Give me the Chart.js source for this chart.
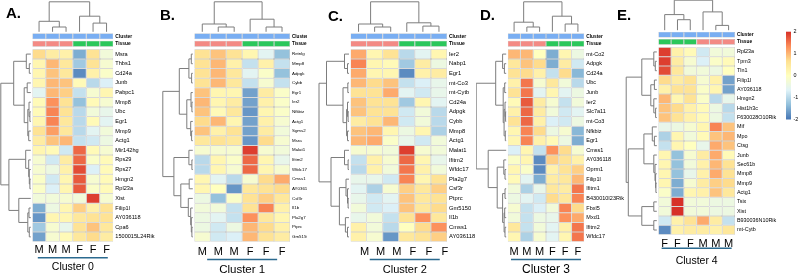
<!DOCTYPE html>
<html>
<head>
<meta charset="utf-8">
<title>Cluster heatmaps</title>
<script src="https://cdn.jsdelivr.net/npm/chart.js@4.4.1/dist/chart.umd.min.js"></script>
<style>
  html, body { margin: 0; padding: 0; background: #fff; }
  #figure { position: relative; width: 800px; height: 275px; overflow: hidden; }
  #figure canvas { position: absolute; top: 0; }
  .tag { position: absolute; font: bold 15px "Liberation Sans", Arial, sans-serif; line-height: 15px; color: #000; }
</style>
</head>
<body>
<div id="figure">
  <canvas id="cA" width="160" height="275" style="left:0px"></canvas>
  <canvas id="cB" width="147" height="275" style="left:160px"></canvas>
  <canvas id="cC" width="162" height="275" style="left:318px"></canvas>
  <canvas id="cD" width="149" height="275" style="left:476px"></canvas>
  <canvas id="cE" width="175" height="275" style="left:625px"></canvas>
  <div class="tag" style="left:6px;top:5px">A.</div>
  <div class="tag" style="left:160px;top:7px">B.</div>
  <div class="tag" style="left:328px;top:8px">C.</div>
  <div class="tag" style="left:480px;top:7px">D.</div>
  <div class="tag" style="left:617px;top:7px">E.</div>
</div>
<script>
// ---- data (z-scores) ----
const samplesMF = ['M', 'M', 'M', 'F', 'F', 'F'];
const samplesFM = ['F', 'F', 'F', 'M', 'M', 'M'];
const clusterNames = ['Cluster 0', 'Cluster 1', 'Cluster 2', 'Cluster 3', 'Cluster 4'];
const legendTicks = [2, 1, 0, -1, -2];

const genes0 = ['Msra', 'Thbs1', 'Cd24a', 'Junb', 'Pabpc1', 'Mmp8', 'Ubc', 'Egr1', 'Mmp9', 'Actg1',
  'Mir142hg', 'Rps29', 'Rps27', 'Hmgn2', 'Rpl23a', 'Xist', 'Filip1l', 'AY036118', 'Cpa6', '1500015L24Rik'];
const z0 = [
  [0.7, 0.4, 0.3, -1.5, 0.6, -0.3], [0.2, 1.0, 0.5, -1.2, 0.6, -0.2], [0.2, 0.9, 0.5, -1.8, 0.3, -0.1],
  [0.2, 1.0, 0.9, 0.1, -1.0, -0.7], [-0.6, 1.0, 0.8, -0.9, -0.2, 0.2], [0.1, 1.3, 0.6, -1.3, 0.1, -0.2],
  [0.1, 1.4, 0.6, -1.0, -0.3, -0.5], [0.2, 1.4, 0.5, -1.0, 0.1, -0.6], [0.6, 1.2, 0.5, -1.0, -0.6, -0.3],
  [0.4, 0.9, 1.0, -0.9, -0.8, -0.4], [0.2, 0.1, -0.8, 1.6, 0.1, -0.2], [-0.2, -0.8, 0.4, 1.6, -0.1, 0.1],
  [-0.2, -0.4, 0.3, 1.8, -0.7, 0.1], [-0.1, -0.8, 0.2, 1.7, -0.2, 0.1], [-0.1, -0.7, 0.2, 1.7, -0.1, 0.1],
  [-0.3, -0.3, -0.2, -0.3, 1.9, -0.2], [-1.5, -0.4, 0.2, 0.8, 0.3, 0.6], [-1.7, 0.2, 0.2, 0.5, 0.6, 0.6],
  [-1.2, -0.2, -0.5, 0.6, 0.9, 0.5], [-1.6, -0.2, 0.1, 0.5, 0.7, 0.4]
];
const colTree0 = [[0, [1, 2, 0.16], 0.35], [3, [4, 5, 0.29], 0.52], 1];
const rowTree0 = [
  [[0, [1, 2, 0.05], 0.15], [[3, 4, 0.12], [[5, [6, 7, 0.03], 0.06], [8, 9, 0.07], 0.1], 0.22], 0.57],
  [[10, [11, [12, [13, 14, 0.03], 0.05], 0.07], 0.17], [15, [[16, 17, 0.06], [18, 19, 0.05], 0.1], 0.4], 0.73],
  1];

const genes1 = ['Retnlg', 'Mmp8', 'Adpgk', 'Cybb', 'Egr1', 'Ier2', 'Nfkbiz', 'Actg1', 'Sgms2', 'Msra',
  'Malat1', 'Ifitm2', 'Wfdc17', 'Cmss1', 'AY036118', 'Csf3r', 'Il1b', 'Pla2g7', 'Ptprc', 'Gm5150'];
const z1 = [
  [0.6, 0.9, 0.6, 0.2, -0.6, -1.3], [0.6, 1.0, 0.3, -0.9, 0.3, -0.9], [0.6, 1.0, 0.5, -0.6, -0.1, -1.3],
  [0.6, 1.0, 0.5, -0.9, -0.2, -0.9], [0.9, 0.2, 0.2, -1.6, 0.4, -0.1], [1.0, 0.2, 0.4, -1.6, 0.3, -0.1],
  [0.9, 0.1, 0.5, -1.7, 0.2, -0.1], [0.7, 1.0, 0.2, -1.6, 0.3, -0.2], [0.9, 0.3, 0.6, -1.6, 0.4, -0.3],
  [0.5, 0.6, 0.5, -1.7, 0.7, -0.2], [-0.2, -0.2, -0.2, 1.9, -0.2, -0.3], [-1.0, 0.2, -0.1, 1.6, 0.2, -0.5],
  [-1.0, 0.2, -0.2, 1.6, 0.2, -0.2], [0.2, -0.6, -1.0, -0.2, 0.7, 1.1], [0.2, 0.0, -1.7, 0.5, 0.6, 0.7],
  [-0.4, -1.3, -0.1, 0.6, 0.8, 0.5], [-0.3, -0.3, -0.9, 0.6, 1.4, 0.3], [-0.4, -0.6, -0.9, 1.3, 0.5, 0.2],
  [-0.4, -0.8, -0.4, 1.0, 0.7, 0.3], [-0.2, -0.8, -0.7, 1.0, 0.6, 0.4]
];
const colTree1 = [[0, [1, 2, 0.16], 0.26], [3, [4, 5, 0.16], 0.42], 1];
const rowTree1 = [
  [[[0, 1, 0.05], [2, 3, 0.04], 0.13], [[4, [5, 6, 0.03], 0.06], [7, [8, 9, 0.04], 0.07], 0.2], 0.45],
  [[10, [11, 12, 0.03], 0.13], [[13, 14, 0.12], [15, [16, [17, [18, 19, 0.03], 0.05], 0.07], 0.15], 0.4], 0.63],
  1];

const genes2 = ['Ier2', 'Nabp1', 'Egr1', 'mt-Co3', 'mt-Cytb', 'Cd24a', 'Adpgk', 'Cybb', 'Mmp8', 'Actg1',
  'Malat1', 'Ifitm2', 'Wfdc17', 'Pla2g7', 'Csf3r', 'Ptprc', 'Gm5150', 'Il1b', 'Cmss1', 'AY036118'];
const z2 = [
  [1.1, 0.2, 0.6, -1.0, -0.6, 0.2], [1.4, 0.2, 0.1, -1.2, 0.4, -0.4], [1.1, 0.2, 0.2, -1.8, 0.3, 0.4],
  [1.0, 0.7, 0.9, -0.9, -0.7, -0.5], [0.6, 0.6, 1.1, -0.6, -0.8, -0.5], [0.9, 0.6, 0.6, -1.2, 0.2, -0.6],
  [0.9, 0.6, 0.6, -0.8, -0.3, -1.0], [0.4, 0.6, 1.0, -0.8, -0.3, -1.0], [0.9, 1.0, 0.2, -0.4, 0.2, -1.1],
  [1.0, 1.1, -0.1, -0.5, -0.8, -0.3], [-0.2, -0.2, -0.3, 1.9, -0.2, -0.3], [-0.9, 0.3, -0.2, 1.6, 0.2, -0.5],
  [-1.0, 0.3, -0.3, 1.5, 0.3, -0.3], [-0.5, -0.5, -0.8, 1.4, 0.2, 0.6], [-0.6, -1.1, -0.2, 0.8, 0.5, 0.8],
  [-0.5, -0.8, -0.6, 0.9, 0.5, 0.6], [-0.3, -0.8, -0.7, 0.9, 0.5, 0.7], [-0.5, -0.3, -0.9, 0.6, 1.3, 0.5],
  [0.3, -0.3, -1.0, 0.0, 0.7, 1.3], [0.3, -0.2, -1.7, 0.5, 0.6, 0.8]
];
const colTree2 = [[0, [1, 2, 0.16], 0.26], [3, [4, 5, 0.19], 0.3], 1];
const rowTree2 = [
  [[0, [1, 2, 0.05], 0.15], [[3, 4, 0.04], [[5, [6, 7, 0.03], 0.05], [8, 9, 0.05], 0.08], 0.2], 0.75],
  [[10, [11, 12, 0.03], 0.15], [[13, [14, [15, 16, 0.03], 0.05], 0.1], [17, [18, 19, 0.05], 0.12], 0.32], 0.6],
  1];

const genes3 = ['mt-Co2', 'Adpgk', 'Cd24a', 'Ubc', 'Junb', 'Ier2', 'Slc7a11', 'mt-Co3', 'Nfkbiz', 'Egr1',
  'Cmss1', 'AY036118', 'Oprm1', 'Filip1l', 'Ifitm1', 'B430010I23Rik', 'Fbxl5', 'Mxd1', 'Ifitm2', 'Wfdc17'];
const z3 = [
  [1.0, 1.0, 0.0, -1.5, 0.2, -0.4], [0.5, 0.9, 0.7, -1.5, 0.4, -0.8], [0.6, 0.7, 0.3, -0.9, 0.7, -1.4],
  [0.3, 1.5, -0.2, 0.5, -0.3, -1.0], [0.6, 1.5, -0.6, 0.2, -0.6, -0.4], [0.1, 1.7, 0.4, -0.2, -0.9, -0.3],
  [0.3, 1.6, 0.4, -0.3, -0.8, -0.6], [0.6, 1.6, 0.3, -0.7, -0.8, -0.4], [0.2, 1.4, 0.7, -0.4, -0.2, -1.4],
  [0.2, 1.4, 0.3, 0.1, -0.4, -1.5], [-0.7, 0.2, -0.9, 1.3, 0.7, -0.2], [-0.1, 0.2, -1.8, 0.8, 0.6, 0.3],
  [0.2, -0.1, -1.8, 0.3, 0.6, 0.8], [0.1, -0.6, -1.5, 0.4, 0.5, 1.0], [-0.3, -1.1, -0.5, 0.5, 0.4, 1.5],
  [-0.4, -0.6, -0.8, 0.7, 0.5, 1.4], [-0.2, -0.9, -0.7, -0.3, 1.4, 0.7], [-0.3, -0.9, -0.4, -0.5, 1.3, 1.1],
  [0.5, -0.9, -0.3, -0.6, 0.3, 1.5], [0.2, -1.1, -0.2, -0.6, 0.2, 1.5]
];
const colTree3 = [[0, [1, 2, 0.16], 0.32], [3, [4, 5, 0.26], 0.52], 1];
const rowTree3 = [
  [[0, [1, 2, 0.06], 0.12], [[3, 4, 0.05], [[5, [6, 7, 0.02], 0.04], [8, 9, 0.03], 0.07], 0.1], 0.35],
  [10, [[11, [12, 13, 0.04], 0.08], [[14, 15, 0.04], [[16, 17, 0.05], [18, 19, 0.04], 0.07], 0.12], 0.3], 0.6],
  1];

const genes4 = ['Rpl23a', 'Tpm3', 'Tln1', 'Filip1l', 'AY036118', 'Hmgn2', 'Hist1h3c', 'F630028O10Rik', 'Mif', 'Mpo',
  'Ctsg', 'Junb', 'Sec61b', 'Mmp8', 'Mmp9', 'Actg1', 'Tsix', 'Xist', 'B930036N10Rik', 'mt-Cytb'];
const z4 = [
  [1.9, 0.3, 0.1, -0.8, -0.3, -0.3], [1.9, 0.4, -0.2, -0.7, -0.1, 0.1], [1.8, 0.5, -0.3, -0.3, -0.4, 0.0],
  [0.7, 0.4, 0.6, -0.2, 0.3, -1.6], [0.3, 0.6, 0.6, -0.1, 0.2, -1.6], [1.0, 0.2, 0.6, -0.1, -1.0, -0.5],
  [0.9, 0.7, 0.3, 0.1, -0.4, -1.0], [0.9, 0.6, 0.3, 0.1, -0.4, -0.9], [-0.5, -0.4, -0.2, 0.2, 1.4, 0.9],
  [-1.1, 0.2, -0.3, 0.1, 0.9, 1.0], [-0.9, 0.2, 0.0, -0.5, 1.1, 0.9], [0.2, -1.3, -0.2, 0.4, 1.1, 0.1],
  [0.2, -1.3, -0.3, 0.3, 1.0, 0.6], [0.2, -1.3, -0.5, 0.3, 1.1, 0.6], [0.2, -1.5, -0.2, 0.4, 0.8, 0.7],
  [-0.1, -1.5, 0.2, 0.3, 0.9, 0.5], [-0.3, 2.0, -0.3, -0.3, -0.4, -0.4], [-0.3, 2.0, -0.3, -0.3, -0.4, -0.4],
  [-0.8, 0.3, 0.6, 1.1, 0.4, -0.9], [-1.8, 0.3, 0.4, 0.4, 0.3, 0.5]
];
const colTree4 = [[0, [1, 2, 0.35], 0.52], [3, [4, 5, 0.16], 0.61], 1];
const rowTree4 = [
  [[0, [1, 2, 0.05], 0.1], [[3, 4, 0.08], [5, [6, 7, 0.04], 0.1], 0.2], 0.5],
  [[[8, [9, 10, 0.08], 0.15], [11, [12, [13, [14, 15, 0.03], 0.04], 0.06], 0.1], 0.43],
   [[16, 17, 0.1], [18, 19, 0.1], 0.5], 0.95],
  1.02];

// ---- styling ----
const FONT = '"Liberation Sans", Arial, sans-serif';
const heatColors = ['#4575B4', '#91BFDB', '#E0F3F8', '#FFFFBF', '#FEE090', '#FC8D59', '#D73027'];
const tissueColors = { M: '#F38A84', F: '#2BC75B' };
const clusterColor = '#79AEF2';
const cellBorder = '#A8A8A8';
const dendroColor = '#7d7d7d';
const underlineColor = '#2b6a8f';
const ANNO = 0.62, GAP1 = 0.15, GAP2 = 0.27;  // annotation rows, in heat-row units
const TREE = 30;                              // dendrogram depth in px

// one entry per panel: canvas placement and heatmap box (page px)
const panels = [
  { id: 'cA', left: 0,   width: 160, hmLeft: 32.3,  hmRight: 113.3, top: 33.3, bottom: 241.7, geneSize: 5.6, annoSize: 4.9, tickPad: 2, lineY: 257.7, titleY: 267.5, titleSize: 10.5, shift: 0 },
  { id: 'cB', left: 160, width: 147, hmLeft: 194.3, hmRight: 290,   top: 33.3, bottom: 241.7, geneSize: 4.4, annoSize: 4.6, tickPad: 4, lineY: 259.5, titleY: 269.5, titleSize: 11.5, shift: 0 },
  { id: 'cC', left: 318, width: 162, hmLeft: 350.5, hmRight: 447,   top: 33.3, bottom: 241.7, geneSize: 5.8, annoSize: 5.0, tickPad: 4, lineY: 259.5, titleY: 270,   titleSize: 11,   shift: 6 },
  { id: 'cD', left: 476, width: 149, hmLeft: 507.7, hmRight: 584.3, top: 33.3, bottom: 241.7, geneSize: 5.5, annoSize: 4.8, tickPad: 4, lineY: 259.5, titleY: 269.5, titleSize: 12,   shift: 0 },
  { id: 'cE', left: 625, width: 175, hmLeft: 658.3, hmRight: 735,   top: 31.7, bottom: 234.7, geneSize: 5.4, annoSize: 4.8, tickPad: 3, lineY: 248.3, titleY: 261,   titleSize: 10.5, shift: 0,
    legend: { x: 786, y0: 31.7, y1: 119.5, w: 5 } }
];

function hexRgb(h) {
  return [1, 3, 5].map(i => parseInt(h.substr(i, 2), 16));
}

function heatColor(v) {
  const n = heatColors.length - 1;
  const t = Math.max(0, Math.min(1, (v + 2) / 4)) * n;
  const i = Math.min(Math.floor(t), n - 1), f = t - i;
  const a = hexRgb(heatColors[i]), b = hexRgb(heatColors[i + 1]);
  const c = a.map((x, k) => Math.round(x + (b[k] - x) * f));
  return `rgb(${c[0]},${c[1]},${c[2]})`;
}

// draws a dendrogram, returns position and height of the node
function drawTree(ctx, node, leaf, pt) {
  if (typeof node === 'number') return { pos: leaf(node), h: 0 };
  const a = drawTree(ctx, node[0], leaf, pt);
  const b = drawTree(ctx, node[1], leaf, pt);
  const h = node[2];
  ctx.beginPath();
  [[a.pos, a.h], [a.pos, h], [b.pos, h], [b.pos, b.h]].forEach(([q, k], j) => {
    const [px, py] = pt(q, k);
    if (j) ctx.lineTo(px, py); else ctx.moveTo(px, py);
  });
  ctx.stroke();
  return { pos: (a.pos + b.pos) / 2, h };
}

function makePanel(L, samples, genes, z, colTree, rowTree, caption) {
  // stacked rows, top to bottom
  const rows = [
    { name: 'Cluster', h: ANNO, kind: 'anno', colors: samples.map(() => clusterColor) },
    { name: '', h: GAP1, kind: 'gap' },
    { name: 'Tissue', h: ANNO, kind: 'anno', colors: samples.map(s => tissueColors[s]) },
    { name: '', h: GAP2, kind: 'gap' }
  ];
  genes.forEach((g, i) => rows.push({ name: g, h: 1, kind: 'gene', colors: z[i].map(heatColor) }));
  let acc = 0;
  rows.forEach(r => { r.c = acc + r.h / 2; acc += r.h; });
  const total = acc;
  const labelled = rows.filter(r => r.kind !== 'gap');
  const geneCenters = rows.filter(r => r.kind === 'gene').map(r => r.c);

  const datasets = rows.map(r => ({
    label: r.name,
    data: samples.map(() => r.h),
    backgroundColor: r.kind === 'gap' ? 'rgba(0,0,0,0)' : r.colors,
    borderColor: cellBorder,
    borderWidth: r.kind === 'gap' ? 0 : 0.5,
    borderSkipped: false,
    inflateAmount: 0,
    barPercentage: 1,
    categoryPercentage: 1
  }));

  const plugin = {
    id: 'trees',
    afterDraw(chart) {
      const { ctx, chartArea: a, scales: { x, y } } = chart;
      ctx.save();
      ctx.strokeStyle = dendroColor;
      ctx.lineWidth = 1;
      const top = a.top - 1.5, left = a.left - 1.5;
      drawTree(ctx, colTree, i => x.getPixelForValue(i), (p, h) => [p, top - h * TREE]);
      drawTree(ctx, rowTree, i => y.getPixelForValue(geneCenters[i]), (p, h) => [left - h * TREE, p]);

      // cluster caption with its underline
      const mid = (a.left + a.right) / 2 + L.shift;
      ctx.strokeStyle = underlineColor;
      ctx.lineWidth = 1.5;
      ctx.beginPath();
      ctx.moveTo(mid - 35, L.lineY);
      ctx.lineTo(mid + 35, L.lineY);
      ctx.stroke();
      ctx.fillStyle = '#000';
      ctx.font = `${L.titleSize}px ${FONT}`;
      ctx.textAlign = 'center';
      ctx.textBaseline = 'middle';
      ctx.fillText(caption, mid, L.titleY);

      if (L.legend) {
        const g = L.legend, gx = g.x - L.left;
        const grad = ctx.createLinearGradient(0, g.y0, 0, g.y1);
        heatColors.forEach((c, i) => grad.addColorStop(1 - i / (heatColors.length - 1), c));
        ctx.fillStyle = grad;
        ctx.fillRect(gx, g.y0, g.w, g.y1 - g.y0);
        ctx.fillStyle = '#000';
        ctx.font = `${L.geneSize}px ${FONT}`;
        ctx.textAlign = 'left';
        const lo = legendTicks[legendTicks.length - 1], hi = legendTicks[0];
        legendTicks.forEach(v => {
          const yy = g.y0 + (hi - v) / (hi - lo) * (g.y1 - g.y0);
          ctx.fillText(String(v), gx + g.w + 2.5, yy);
        });
      }
      ctx.restore();
    }
  };

  return new Chart(document.getElementById(L.id), {
    type: 'bar',
    data: { labels: samples, datasets },
    plugins: [plugin],
    options: {
      responsive: false,
      animation: false,
      events: [],
      layout: { padding: { left: L.hmLeft - L.left, top: L.top, right: 0, bottom: 0 } },
      plugins: { legend: { display: false }, tooltip: { enabled: false } },
      scales: {
        x: {
          stacked: true,
          grid: { display: false, drawTicks: false },
          border: { display: false },
          ticks: { autoSkip: false, maxRotation: 0, padding: L.tickPad, color: '#000',
                   labelOffset: L.shift, font: { family: FONT, size: 11 } },
          afterFit: s => { s.height = 275 - L.bottom; }
        },
        y: {
          type: 'linear',
          position: 'right',
          stacked: true,
          reverse: true,
          min: 0,
          max: total,
          grid: { display: false, drawTicks: false },
          border: { display: false },
          afterBuildTicks: s => { s.ticks = labelled.map(r => ({ value: r.c })); },
          afterFit: s => { s.width = L.left + L.width - L.hmRight; },
          ticks: {
            autoSkip: false,
            padding: 2,
            color: '#000',
            callback: (v, i) => labelled[i].name,
            font: c => ({ family: FONT, size: c.index < 2 ? L.annoSize : L.geneSize,
                          weight: c.index < 2 ? 'bold' : 'normal' })
          }
        }
      }
    }
  });
}

makePanel(panels[0], samplesMF, genes0, z0, colTree0, rowTree0, clusterNames[0]);
makePanel(panels[1], samplesMF, genes1, z1, colTree1, rowTree1, clusterNames[1]);
makePanel(panels[2], samplesMF, genes2, z2, colTree2, rowTree2, clusterNames[2]);
makePanel(panels[3], samplesMF, genes3, z3, colTree3, rowTree3, clusterNames[3]);
makePanel(panels[4], samplesFM, genes4, z4, colTree4, rowTree4, clusterNames[4]);
</script>
</body>
</html>
